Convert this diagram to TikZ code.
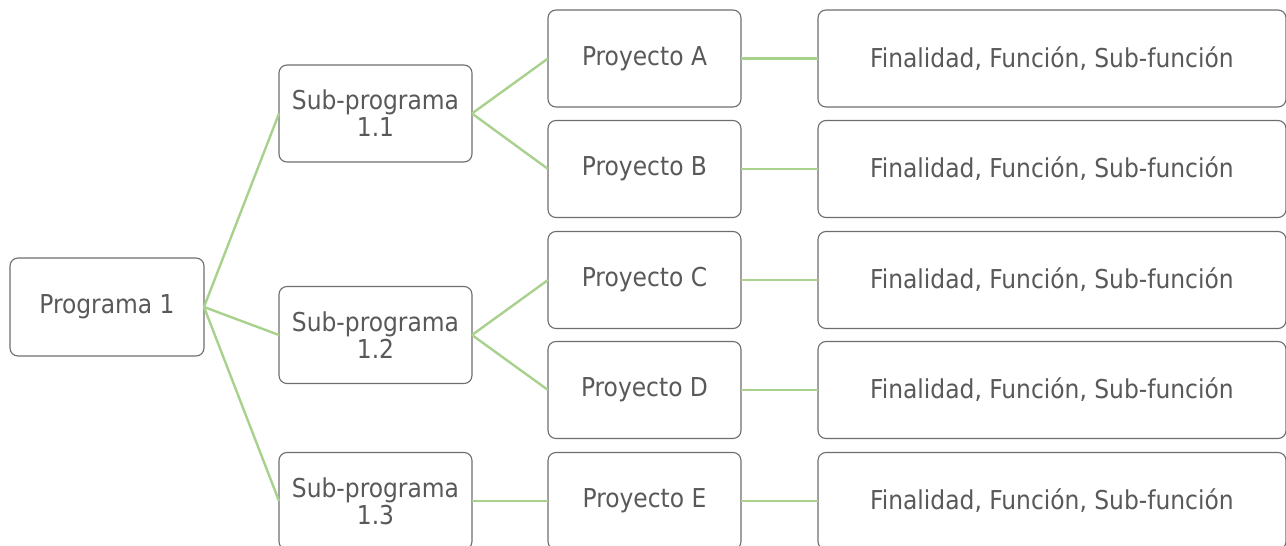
\documentclass[tikz,border=0pt]{standalone}
\usepackage{fontspec}
\setmainfont{DejaVu Sans Condensed}
\definecolor{boxline}{HTML}{6E6E6E}
\definecolor{boxtext}{HTML}{595959}
\definecolor{conn}{HTML}{A9D18E}
\begin{document}
\begin{tikzpicture}[x=1pt,y=-1pt,
  box/.style={draw=boxline, line width=1.1pt, rounded corners=8pt, fill=white,
    text=boxtext, font=\fontsize{26}{27}\selectfont, align=center,
    inner sep=0pt, outer sep=0pt},
  prog/.style={box, minimum width=194pt, minimum height=98pt},
  sub/.style={box, minimum width=193pt, minimum height=97pt},
  proj/.style={box, minimum width=193pt, minimum height=97pt},
  fin/.style={box, minimum width=468pt, minimum height=97pt},
  link/.style={draw=conn, line width=2.4pt}]
\useasboundingbox (0,0) rectangle (1286,546);
\node[prog] (p1) at (107,307) {Programa 1};
\node[sub] (s1) at (375.5,113.5) {Sub-programa\\1.1};
\node[sub] (s2) at (375.5,335) {Sub-programa\\1.2};
\node[sub] (s3) at (375.5,501) {Sub-programa\\1.3};
\node[proj] (pa) at (644.5,58.5) {Proyecto A};
\node[proj] (pb) at (644.5,169) {Proyecto B};
\node[proj] (pc) at (644.5,280) {Proyecto C};
\node[proj] (pd) at (644.5,390) {Proyecto D};
\node[proj] (pe) at (644.5,501) {Proyecto E};
\node[fin] (fa) at (1052,58.5) {Finalidad, Función, Sub-función};
\node[fin] (fb) at (1052,169) {Finalidad, Función, Sub-función};
\node[fin] (fc) at (1052,280) {Finalidad, Función, Sub-función};
\node[fin] (fd) at (1052,390) {Finalidad, Función, Sub-función};
\node[fin] (fe) at (1052,501) {Finalidad, Función, Sub-función};
\draw[link] (p1.east) -- (s1.west);
\draw[link] (p1.east) -- (s2.west);
\draw[link] (p1.east) -- (s3.west);
\draw[link] (s1.east) -- (pa.west);
\draw[link] (s1.east) -- (pb.west);
\draw[link] (s2.east) -- (pc.west);
\draw[link] (s2.east) -- (pd.west);
\draw[link] (s3.east) -- (pe.west);
\draw[link] (pa.east) -- (fa.west);
\draw[link] (pb.east) -- (fb.west);
\draw[link] (pc.east) -- (fc.west);
\draw[link] (pd.east) -- (fd.west);
\draw[link] (pe.east) -- (fe.west);
\end{tikzpicture}
\end{document}
